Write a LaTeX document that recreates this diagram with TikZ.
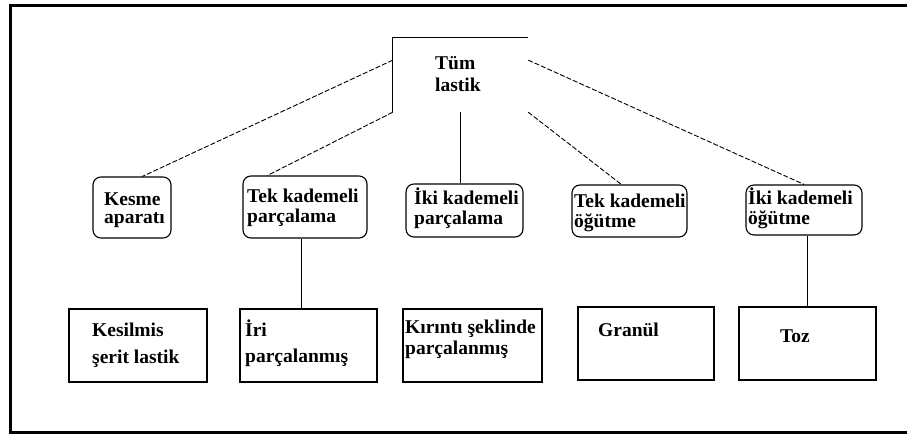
\documentclass[tikz,border=0pt]{standalone}
\usepackage{fontspec}
\setmainfont{Liberation Serif}
\usetikzlibrary{calc}
\newcommand{\twolines}[3]{\vtop{\baselineskip=#1\lineskiplimit=-30pt\hbox{#2}\hbox{#3}}}
\begin{document}
\begin{tikzpicture}[x=1pt,y=-1pt,
  rbox/.style={draw, line width=1.1pt, rounded corners=8pt, inner sep=0pt},
  sbox/.style={draw, line width=1.1pt, inner sep=0pt},
  txt/.style={anchor=base west, inner sep=0pt, font=\fontsize{19.5}{21}\selectfont\bfseries},
  conn/.style={line width=0.9pt},
  dconn/.style={line width=0.9pt, dash pattern=on 5pt off 2pt}]
\useasboundingbox (0,0) rectangle (907,435);
\clip (0,0) rectangle (907,435);
\draw[line width=3pt] (10,6) rectangle (915,432);
% top node
\node[inner sep=0pt, minimum width=135pt, minimum height=74pt] (top) at (460.5,75) {};
\draw[line width=1.1pt] (top.south west) -- (top.north west) -- (top.north east);
\node[txt] (ttop) at (435,70) {\twolines{22pt}{Tüm}{lastik}};
% middle rounded boxes
\node[rbox, minimum width=78pt, minimum height=61pt] (kes) at (132,207.5) {};
\node[rbox, minimum width=124pt, minimum height=62pt] (tkp) at (305,207) {};
\node[rbox, minimum width=117pt, minimum height=53pt] (ikp) at (464.5,210.5) {};
\node[rbox, minimum width=115pt, minimum height=52pt] (tko) at (629.5,211) {};
\node[rbox, minimum width=116pt, minimum height=50pt] (iko) at (804,210) {};
\node[txt] (tkes) at (104,206) {\twolines{18pt}{Kesme}{aparatı}};
\node[txt] (ttkp) at (247,203) {\twolines{20pt}{Tek kademeli}{parçalama}};
\node[txt] (tikp) at (414,205) {\twolines{20pt}{İki kademeli}{parçalama}};
\node[txt] (ttko) at (574,208) {\twolines{20pt}{Tek kademeli}{öğütme}};
\node[txt] (tiko) at (748,205) {\twolines{20pt}{İki kademeli}{öğütme}};
% bottom boxes
\node[sbox, minimum width=138pt, minimum height=73pt] (kesil) at (138,345.5) {};
\node[sbox, minimum width=137pt, minimum height=73pt] (iri) at (308.5,345.5) {};
\node[sbox, minimum width=139pt, minimum height=73pt] (kir) at (472.5,345.5) {};
\node[sbox, minimum width=136pt, minimum height=73pt] (gra) at (646,343.5) {};
\node[sbox, minimum width=137pt, minimum height=73pt] (toz) at (807.5,343.5) {};
\node[txt] (tkesil) at (92,337) {\twolines{27pt}{Kesilmis}{şerit lastik}};
\node[txt] (tiri) at (245,337) {\twolines{26pt}{İri}{parçalanmış}};
\node[txt] (tkir) at (405,334) {\twolines{21pt}{Kırıntı şeklinde}{parçalanmış}};
\node[txt] (tgra) at (598,337) {Granül};
\node[txt] (ttoz) at (780,343) {Toz};
% connectors
\draw[dconn] ($(top.north west)!0.3!(top.south west)$) -- ($(kes.north west)!0.63!(kes.north east)$);
\draw[dconn] (top.south west) -- ($(tkp.north west)!0.2!(tkp.north east)$);
\draw[conn] (top.south) -- (top.south |- ikp.north);
\draw[dconn] (top.south east) -- ($(tko.north west)!0.43!(tko.north east)$);
\draw[dconn] ($(top.north east)!0.3!(top.south east)$) -- (iko.north);
\coordinate (irin) at ($(iri.north west)!0.45!(iri.north east)$);
\draw[conn] (irin) -- (irin |- tkp.south);
\draw[conn] (toz.north) -- (toz.north |- iko.south);
\end{tikzpicture}
\end{document}
